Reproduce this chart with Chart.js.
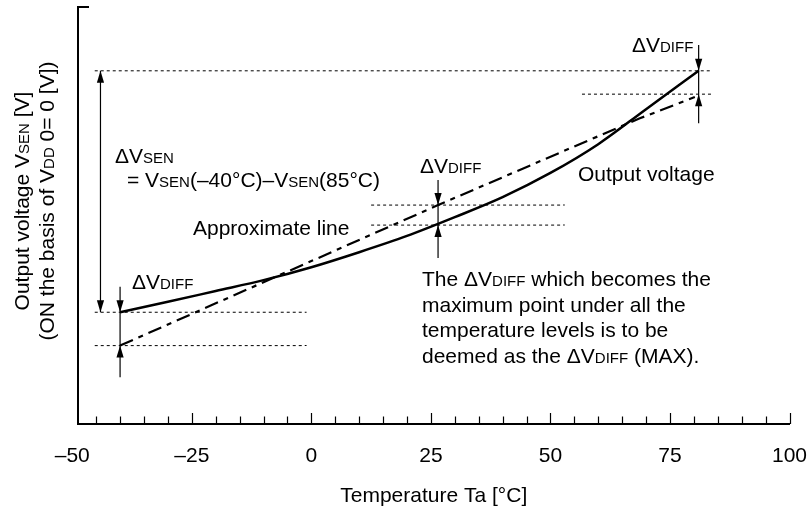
<!DOCTYPE html>
<html>
<head>
<meta charset="utf-8">
<script src="https://cdn.jsdelivr.net/npm/chart.js@4.4.0/dist/chart.umd.min.js"></script>
<style>
    html, body { margin: 0; padding: 0; background: #fff; }
    canvas { display: block; }
</style>
</head>
<body>
<canvas id="chart" width="812" height="515"></canvas>
<script>
// Measured output voltage (arbitrary units, the axis has no scale)
const outputTemps = [-40, -30, -20, -10, 0, 10, 20, 30, 40, 50, 60, 70, 81];
const outputVolts = [26.8, 29.3, 31.9, 34.5, 37.6, 41.2, 45.1, 49.6, 54.4, 60.2, 67.1, 75.5, 84.7];

// Approximate (straight) line
const approxTemps = [-40, 26.5, 68.7, 80.2];
const approxVolts = [18.8, 52.5, 73.3, 78.4];

// Tick labels on the temperature axis
const majorTicks = [-50, -25, 0, 25, 50, 75, 100];
const minorTicks = [-45, -40, -35, -30, -20, -15, -10, -5, 5, 10, 15, 20, 30, 35, 40, 45,
                    55, 60, 65, 70, 80, 85, 90, 95];

// Dotted reference levels: level, start temp, end temp
const guideLevels = [84.7, 26.8, 18.8, 52.5, 47.7, 79.1];
const guideFrom = [-45.3, -45.3, -45.3, 12.5, 12.5, 56.6];
const guideTo = [83.7, -1, -1, 53, 53, 83.7];

// ΔVDIFF markers
const diffTemps = [-40, 26.5, 81];
const diffUpper = [26.8, 52.5, 84.7];
const diffLower = [18.8, 47.7, 79.1];
const diffTop = [32.9, 58.5, 90.9];
const diffBottom = [11.2, 39.8, 72.1];

// ΔVSEN span
const senTemp = -44.1;
const senLow = 26.8;
const senHigh = 84.7;

const FAMILY = '"Liberation Sans", Arial, Helvetica, sans-serif';
const BIG = '21px ' + FAMILY;
const SMALL = '15px ' + FAMILY;

function pairs(xs, ys) {
    return xs.map((x, i) => ({ x: x, y: ys[i] }));
}

const datasets = [];
datasets.push({
    label: 'Output voltage',
    data: pairs(outputTemps, outputVolts),
    borderColor: '#000',
    borderWidth: 2.5,
    cubicInterpolationMode: 'monotone'
});
datasets.push({
    label: 'Approximate line',
    data: pairs(approxTemps, approxVolts),
    borderColor: '#000',
    borderWidth: 2.2,
    borderDash: [14, 6, 5, 6]
});
guideLevels.forEach((lvl, i) => {
    datasets.push({
        label: 'guide' + i,
        data: [{ x: guideFrom[i], y: lvl }, { x: guideTo[i], y: lvl }],
        borderColor: '#000',
        borderWidth: 1,
        borderDash: [3, 3]
    });
});
diffTemps.forEach((t, i) => {
    datasets.push({
        label: 'diff' + i,
        data: [{ x: t, y: diffBottom[i] }, { x: t, y: diffTop[i] }],
        borderColor: '#000',
        borderWidth: 1.2
    });
});
datasets.push({
    label: 'sen',
    data: [{ x: senTemp, y: senLow }, { x: senTemp, y: senHigh }],
    borderColor: '#000',
    borderWidth: 1.2
});

// draw rich text: parts are strings (normal) or one-element arrays (small caps)
function rich(ctx, parts, x, y, align) {
    let w = 0;
    parts.forEach(p => {
        ctx.font = Array.isArray(p) ? SMALL : BIG;
        w += ctx.measureText(Array.isArray(p) ? p[0] : p).width;
    });
    let cx = align === 'center' ? x - w / 2 : x;
    ctx.textAlign = 'left';
    parts.forEach(p => {
        const s = Array.isArray(p) ? p[0] : p;
        ctx.font = Array.isArray(p) ? SMALL : BIG;
        ctx.fillText(s, cx, y);
        cx += ctx.measureText(s).width;
    });
}

function arrowHead(ctx, x, y, dir) {
    // dir = 1 points down, -1 points up
    ctx.beginPath();
    ctx.moveTo(x, y);
    ctx.lineTo(x - 3.6, y - dir * 12);
    ctx.lineTo(x + 3.6, y - dir * 12);
    ctx.closePath();
    ctx.fill();
}

const extras = {
    id: 'extras',
    afterDraw(chart) {
        const ctx = chart.ctx;
        const xs = chart.scales.x;
        const ys = chart.scales.y;
        const area = chart.chartArea;
        ctx.save();
        ctx.setLineDash([]);
        ctx.fillStyle = '#000';
        ctx.strokeStyle = '#000';

        // inward tick marks
        ctx.lineWidth = 1.2;
        majorTicks.concat(minorTicks).forEach(v => {
            if (v < xs.min) return;
            const px = Math.round(xs.getPixelForValue(v)) + 0.5;
            const len = majorTicks.includes(v) ? 11 : 7.5;
            ctx.beginPath();
            ctx.moveTo(px, area.bottom);
            ctx.lineTo(px, area.bottom - len);
            ctx.stroke();
        });
        // cap at the top of the vertical axis
        ctx.lineWidth = 2;
        ctx.beginPath();
        ctx.moveTo(area.left - 1, ys.getPixelForValue(ys.max));
        ctx.lineTo(area.left + 11, ys.getPixelForValue(ys.max));
        ctx.stroke();

        // arrow heads
        diffTemps.forEach((t, i) => {
            const px = xs.getPixelForValue(t);
            arrowHead(ctx, px, ys.getPixelForValue(diffUpper[i]), 1);
            arrowHead(ctx, px, ys.getPixelForValue(diffLower[i]), -1);
        });
        const sx = xs.getPixelForValue(senTemp);
        arrowHead(ctx, sx, ys.getPixelForValue(senHigh), -1);
        arrowHead(ctx, sx, ys.getPixelForValue(senLow), 1);

        // annotations
        ctx.textBaseline = 'alphabetic';
        rich(ctx, ['\u0394V', ['SEN']], 115, 163);
        rich(ctx, ['= V', ['SEN'], '(\u201340\u00b0C)\u2013V', ['SEN'], '(85\u00b0C)'], 127, 187);
        rich(ctx, ['Approximate line'], 193, 235);
        rich(ctx, ['\u0394V', ['DIFF']], 132, 289);
        rich(ctx, ['\u0394V', ['DIFF']], 420, 173);
        rich(ctx, ['Output voltage'], 578, 181);
        rich(ctx, ['\u0394V', ['DIFF']], 632, 52);
        rich(ctx, ['The \u0394V', ['DIFF'], ' which becomes the'], 422, 286);
        rich(ctx, ['maximum point under all the'], 422, 311.7);
        rich(ctx, ['temperature levels is to be'], 422, 337.3);
        rich(ctx, ['deemed as the \u0394V', ['DIFF'], ' (MAX).'], 422, 362.7);

        // vertical axis title, two lines
        ctx.translate(29, 201);
        ctx.rotate(-Math.PI / 2);
        rich(ctx, ['Output voltage V', ['SEN'], ' [V]'], 0, 0, 'center');
        rich(ctx, ['(ON the basis of V', ['DD'], ' 0= 0 [V])'], 0, 25, 'center');
        ctx.restore();
    }
};

new Chart(document.getElementById('chart'), {
    type: 'line',
    data: { datasets: datasets },
    options: {
        responsive: false,
        animation: false,
        devicePixelRatio: 1,
        layout: { padding: { left: 78, right: 22.5, top: 7, bottom: 6.6 } },
        elements: { point: { radius: 0 }, line: { fill: false, tension: 0 } },
        plugins: { legend: { display: false }, tooltip: { enabled: false } },
        scales: {
            x: {
                type: 'linear',
                min: -48.8,
                max: 100,
                afterBuildTicks: scale => {
                    scale.ticks = majorTicks.map(v => ({ value: v }));
                },
                afterFit: scale => {
                    scale.height = 84.4;
                },
                ticks: {
                    autoSkip: false,
                    maxRotation: 0,
                    padding: 0,
                    color: '#000',
                    font: { family: FAMILY, size: 21 },
                    callback: v => (v < 0 ? '\u2013' + Math.abs(v) : String(v))
                },
                grid: {
                    display: true,
                    drawOnChartArea: false,
                    drawTicks: true,
                    tickLength: 20,
                    color: 'transparent',
                    tickColor: 'transparent'
                },
                border: { display: true, color: '#000', width: 2 },
                title: {
                    display: true,
                    text: 'Temperature Ta [\u00b0C]',
                    color: '#000',
                    font: { family: FAMILY, size: 21 },
                    padding: { top: 14, bottom: 0 }
                }
            },
            y: {
                min: 0,
                max: 100,
                ticks: { display: false },
                grid: { display: false, drawTicks: false },
                border: { display: true, color: '#000', width: 2 }
            }
        }
    },
    plugins: [extras]
});
</script>
</body>
</html>
